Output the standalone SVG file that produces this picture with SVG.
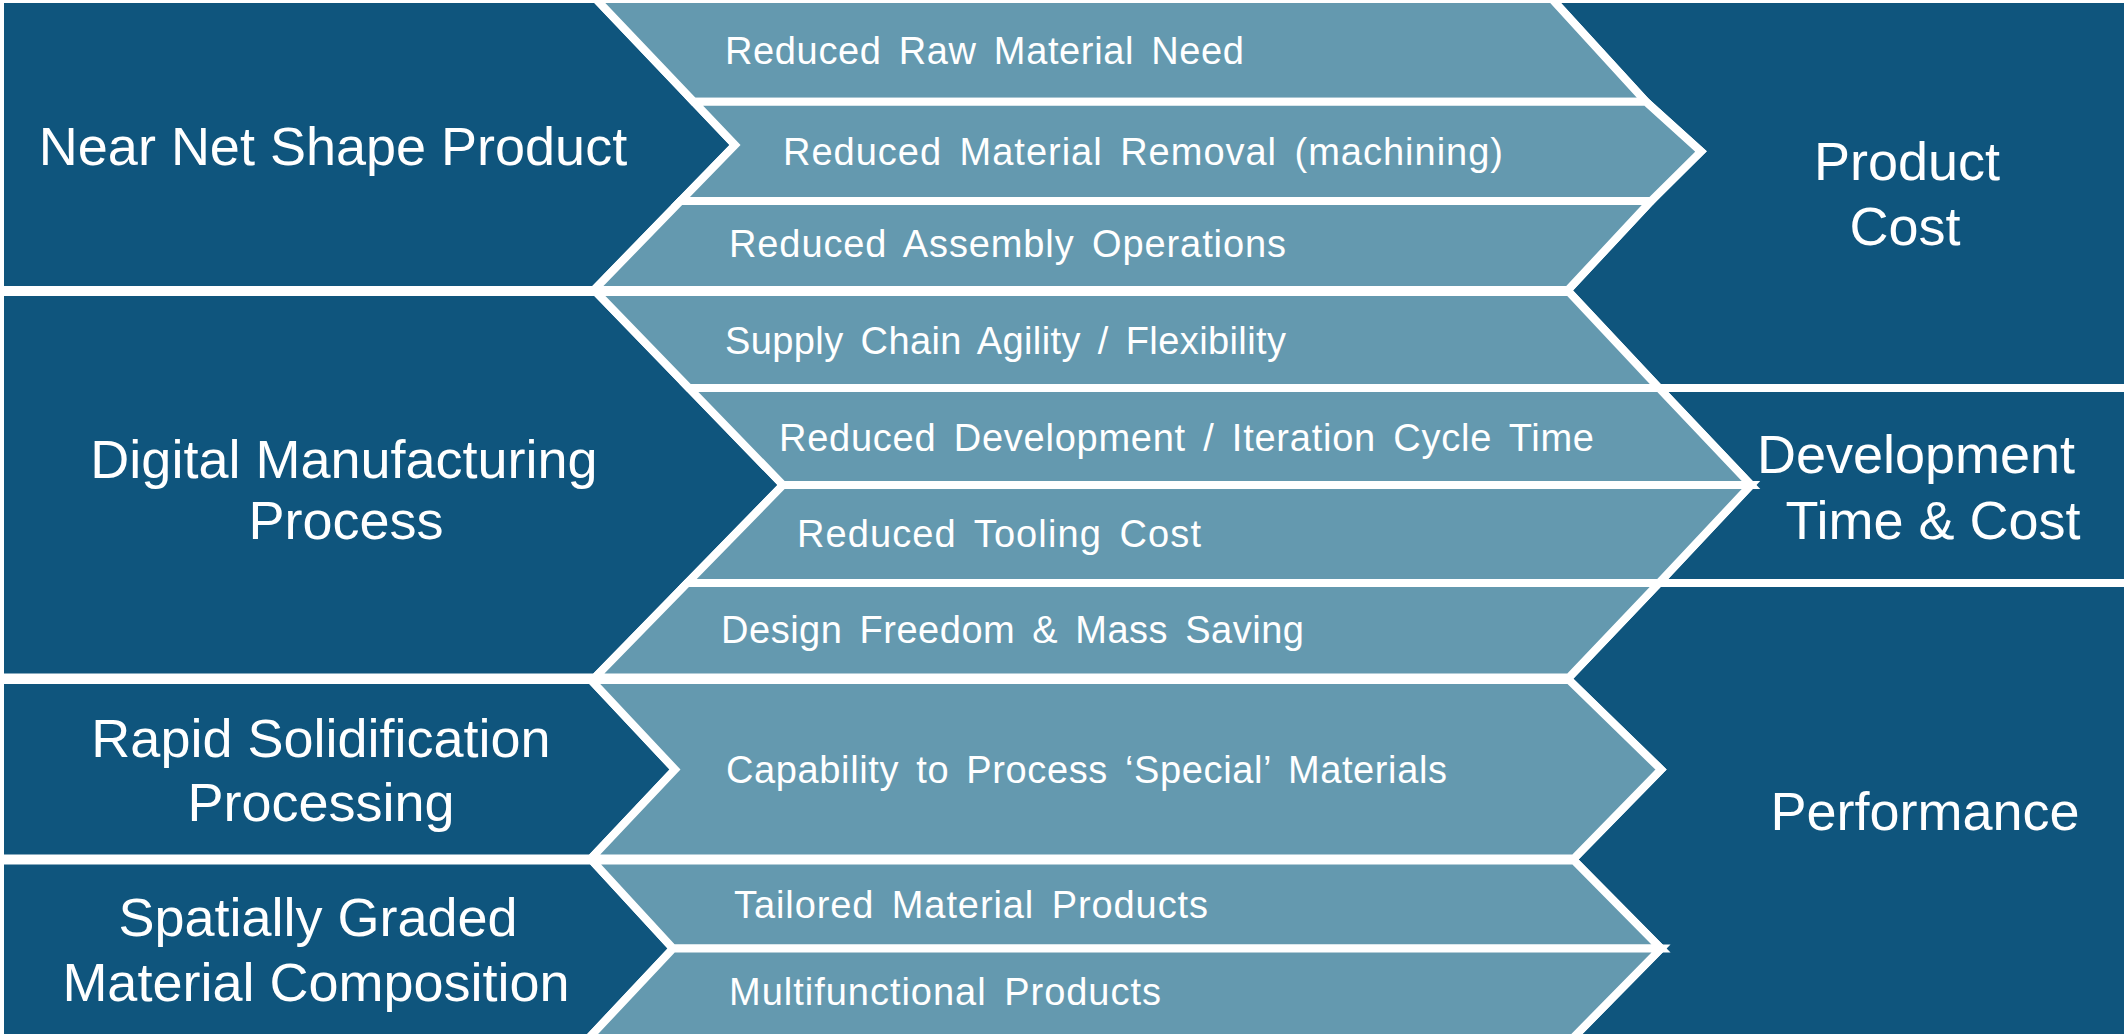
<svg xmlns="http://www.w3.org/2000/svg" width="2124" height="1034" viewBox="0 0 2124 1034">
<style>
.dk{fill:#0F557D;stroke:#FFFFFF;stroke-width:8;stroke-linejoin:miter}
.lt{fill:#6499AF;stroke:#FFFFFF;stroke-width:8;stroke-linejoin:miter}
.big{font-family:"Liberation Sans",Arial,sans-serif;font-size:54px;fill:#FFFFFF;text-anchor:middle}
.sm{font-family:"Liberation Sans",Arial,sans-serif;font-size:38px;fill:#FFFFFF;word-spacing:6px}
</style>
<rect x="0" y="0" width="2124" height="1034" fill="#FFFFFF"/>
<g id="connectors"/>
<g id="near-net-shape">
<polygon class="dk" points="0,-1 596,-1 735,145 594,290 0,290"/>
<text class="big" x="333" y="165">Near Net Shape Product</text>
</g>
<g id="digital-manufacturing">
<polygon class="dk" points="0,292 596,292 783,485 595,677.5 0,677.5"/>
<text class="big" x="344" y="478">Digital Manufacturing</text>
<text class="big" x="346" y="539">Process</text>
</g>
<g id="rapid-solidification">
<polygon class="dk" points="0,680 591,680 675,769.5 591,858.5 0,858.5"/>
<text class="big" x="321" y="757">Rapid Solidification</text>
<text class="big" x="321" y="821">Processing</text>
</g>
<g id="spatially-graded">
<polygon class="dk" points="0,860.5 592,860.5 673,948.5 587,1040 0,1040"/>
<text class="big" x="318" y="936">Spatially Graded</text>
<text class="big" x="316" y="1001">Material Composition</text>
</g>
<g id="product-cost">
<polygon class="dk" points="1552,-1 1646,101.7 1701,151.5 1651,201 1568,290 1569,292 1659,388 2130,388 2130,-1"/>
<text class="big" x="1907" y="180">Product</text>
<text class="big" x="1905" y="245">Cost</text>
</g>
<g id="development-time-cost">
<polygon class="dk" points="1659,388 1751,485 1659,583 2130,583 2130,388"/>
<text class="big" x="1916" y="473">Development</text>
<text class="big" x="1933" y="539">Time &amp; Cost</text>
</g>
<g id="performance">
<polygon class="dk" points="1659,583 1569,677.5 1569,680 1661,769.5 1574,858.5 1574,860.5 1661,948.5 1571,1040 2130,1040 2130,583"/>
<text class="big" x="1925" y="830">Performance</text>
</g>
<g id="reduced-raw-material">
<polygon class="lt" points="596,-1 1552,-1 1646,101.7 693.8,101.7"/>
<text class="sm" x="725" y="64" textLength="519" lengthAdjust="spacing">Reduced Raw Material Need</text>
</g>
<g id="reduced-material-removal">
<polygon class="lt" points="693.8,101.7 1646,101.7 1701,151.5 1651,201 680.5,201 735,145"/>
<text class="sm" x="783" y="165" textLength="720" lengthAdjust="spacing">Reduced Material Removal (machining)</text>
</g>
<g id="reduced-assembly">
<polygon class="lt" points="680.5,201 1651,201 1568,290 594,290"/>
<text class="sm" x="729" y="257" textLength="557" lengthAdjust="spacing">Reduced Assembly Operations</text>
</g>
<g id="supply-chain">
<polygon class="lt" points="596,292 1569,292 1659,388 689,388"/>
<text class="sm" x="725" y="354" textLength="561" lengthAdjust="spacing">Supply Chain Agility / Flexibility</text>
</g>
<g id="reduced-development">
<polygon class="lt" points="689,388 1659,388 1751,485 783,485"/>
<text class="sm" x="779" y="451" textLength="815" lengthAdjust="spacing">Reduced Development / Iteration Cycle Time</text>
</g>
<g id="reduced-tooling">
<polygon class="lt" points="783,485 1751,485 1659,583 687.3,583"/>
<text class="sm" x="797" y="547" textLength="404" lengthAdjust="spacing">Reduced Tooling Cost</text>
</g>
<g id="design-freedom">
<polygon class="lt" points="687.3,583 1659,583 1569,677.5 595,677.5"/>
<text class="sm" x="721" y="643" textLength="583" lengthAdjust="spacing">Design Freedom &amp; Mass Saving</text>
</g>
<g id="special-materials">
<polygon class="lt" points="591,680 1569,680 1661,769.5 1574,858.5 591,858.5 675,769.5"/>
<text class="sm" x="726" y="783" textLength="721" lengthAdjust="spacing">Capability to Process ‘Special’ Materials</text>
</g>
<g id="tailored-material">
<polygon class="lt" points="592,860.5 1574,860.5 1661,948.5 673,948.5"/>
<text class="sm" x="734" y="918" textLength="474" lengthAdjust="spacing">Tailored Material Products</text>
</g>
<g id="multifunctional">
<polygon class="lt" points="673,948.5 1661,948.5 1571,1040 587,1040"/>
<text class="sm" x="729" y="1005" textLength="432" lengthAdjust="spacing">Multifunctional Products</text>
</g>
</svg>
